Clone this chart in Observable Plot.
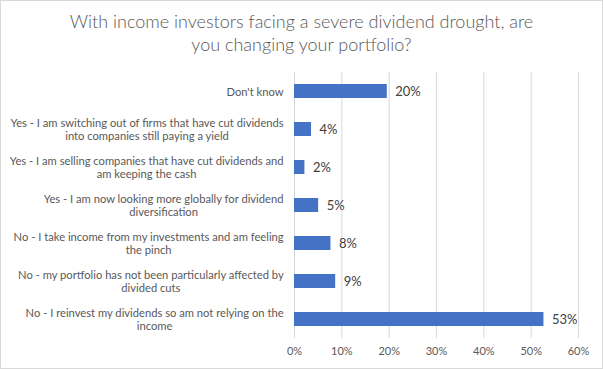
<!DOCTYPE html>
<html><head><meta charset="utf-8">
<script src="https://cdn.jsdelivr.net/npm/d3@7"></script>
<script src="https://cdn.jsdelivr.net/npm/@observablehq/plot@0.6"></script>
<style>
html,body{margin:0;padding:0;background:#fff;}
#wrap{position:relative;width:603px;height:369px;overflow:hidden;font-family:Lato,"Open Sans",sans-serif;}
#frame{position:absolute;left:0;top:0;width:601px;height:367px;border:1px solid #d9d9d9;pointer-events:none;}
#title{position:absolute;left:0;top:10px;width:603px;text-align:center;font-size:18px;line-height:23px;color:#595959;font-weight:300;}
#plot{position:absolute;left:0;top:62px;}
</style></head>
<body>
<div id="wrap">
  <div id="title">With income investors facing a severe dividend drought, are<br>you changing your portfolio?</div>
  <div id="plot"></div>
  <div id="frame"></div>
</div>
<script>
const categories = [
  "Don't know",
  "Yes - I am switching out of firms that have cut dividends\ninto companies still paying a yield",
  "Yes - I am selling companies that have cut dividends and\nam keeping the cash",
  "Yes - I am now looking more globally for dividend\ndiversification",
  "No - I take income from my investments and am feeling\nthe pinch",
  "No - my portfolio has not been particularly affected by\ndivided cuts",
  "No - I reinvest my dividends so am not relying on the\nincome"
];
const values = [0.196, 0.036, 0.022, 0.051, 0.077, 0.087, 0.527];
const xTicks = [0, 0.1, 0.2, 0.3, 0.4, 0.5, 0.6];

const data = categories.map((c, i) => ({category: c, value: values[i]}));
const pct = d3.format(".0%");

const chart = Plot.plot({
  width: 603,
  height: 307,
  marginLeft: 294,
  marginRight: 25,
  marginTop: 10,
  marginBottom: 31,
  style: {fontFamily: "Lato, 'Open Sans', sans-serif", background: "transparent", overflow: "visible"},
  x: {domain: [0, 0.6]},
  y: {domain: categories, paddingInner: 0.63, paddingOuter: 0.315},
  marks: [
    Plot.gridX(xTicks, {stroke: "#d9d9d9", strokeOpacity: 1}),
    Plot.barX(data, {x: "value", y: "category", fill: "#4472C4"}),
    Plot.text(data, {x: "value", y: "category", text: d => pct(d.value), dx: 8, textAnchor: "start", fontSize: 13, fill: "#404040"}),
    Plot.axisX({ticks: xTicks, tickFormat: pct, tickSize: 0, tickPadding: 9, fontSize: 11, color: "#595959", label: null}),
    Plot.axisY({tickSize: 0, tickPadding: 11, fontSize: 11.2, lineHeight: 1.15, color: "#595959", label: null, textAnchor: "end"})
  ]
});
document.getElementById("plot").appendChild(chart);

// Excel-style: centre the lines of each multi-line category label within its block
chart.querySelectorAll("text").forEach(t => {
  const spans = t.querySelectorAll("tspan");
  if (spans.length < 2) return;
  const bb = t.getBBox();
  const right = bb.x + bb.width;
  let w = 0;
  spans.forEach(s => { w = Math.max(w, s.getComputedTextLength()); });
  t.setAttribute("text-anchor", "middle");
  spans.forEach(s => s.setAttribute("x", right - w / 2));
});
</script>
</body></html>
